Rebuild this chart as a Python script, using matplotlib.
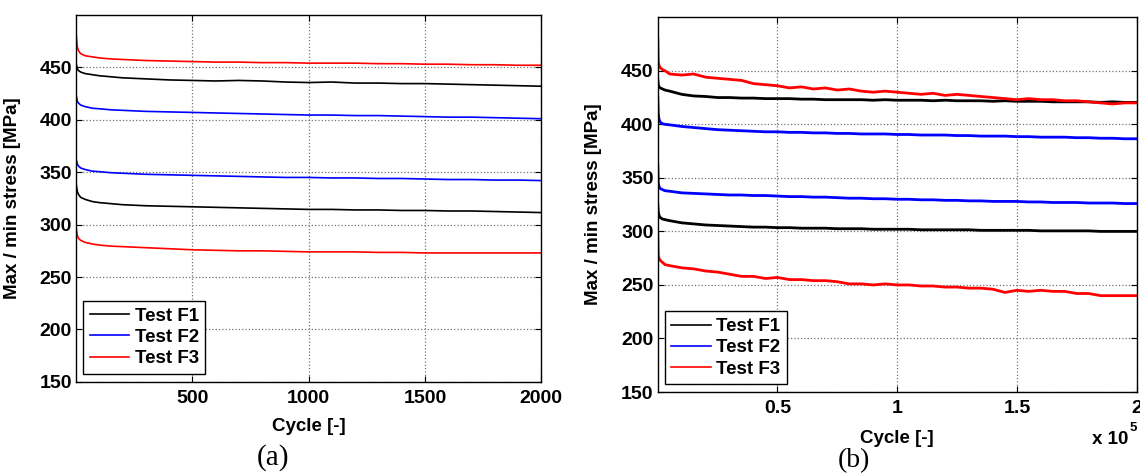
import matplotlib
matplotlib.use("Agg")
import matplotlib.pyplot as plt

plt.rcParams['font.family'] = ['Liberation Sans', 'DejaVu Sans']
plt.rcParams['font.weight'] = 'bold'

# ---------------- data: panel (a), 2000 cycles ----------------
cycles_a = [1, 5, 10, 20, 40, 70, 100, 150, 200, 300, 400, 500, 600, 700, 800,
            900, 1000, 1100, 1200, 1300, 1400, 1500, 1600, 1700, 1800, 1900, 2000]
a_f1_max = [453, 449, 447, 445.5, 444, 443, 442, 441, 440, 439, 438, 437.5, 437, 437.5,
            437, 436, 435.5, 436, 435, 435, 434.5, 434.5, 434, 433.5, 433, 432.5, 432]
a_f2_max = [423, 418, 416, 414, 412.5, 411, 410.5, 409.5, 409, 408, 407.5, 407, 406.5,
            406, 405.5, 405, 404.5, 404.5, 404, 404, 403.5, 403, 402.5, 402.5, 402, 401.5, 401]
a_f3_max = [480, 470, 466, 463, 461, 460, 459, 458, 457.5, 456.5, 456, 455.5, 455, 455,
            454.5, 454.5, 454, 454, 454, 453.5, 453.5, 453, 453, 452.5, 452.5, 452, 452]
a_f1_min = [338, 332, 329, 326, 324, 322, 321, 320, 319, 318, 317.5, 317, 316.5, 316,
            315.5, 315, 314.5, 314.5, 314, 314, 313.5, 313.5, 313, 313, 312.5, 312, 311.5]
a_f2_min = [362, 358, 356, 354, 352.5, 351, 350.5, 349.5, 349, 348, 347.5, 347, 346.5,
            346, 345.5, 345, 345, 344.5, 344.5, 344, 344, 343.5, 343, 343, 342.5, 342.5, 342]
a_f3_min = [296, 290, 287, 285, 283, 281.5, 280.5, 279.5, 279, 278, 277, 276, 275.5, 275,
            275, 274.5, 274, 274, 274, 273.5, 273.5, 273, 273, 273, 273, 273, 273]

# ---------------- data: panel (b), 2e5 cycles (x in units of 1e5) ----------------
cycles_b = [0, 0.002, 0.005, 0.01, 0.02, 0.03, 0.05, 0.10, 0.15, 0.20, 0.25, 0.30, 0.35,
            0.40, 0.45, 0.50, 0.55, 0.60, 0.65, 0.70, 0.75, 0.80, 0.85, 0.90, 0.95, 1.00,
            1.05, 1.10, 1.15, 1.20, 1.25, 1.30, 1.35, 1.40, 1.45, 1.50, 1.55, 1.60, 1.65,
            1.70, 1.75, 1.80, 1.85, 1.90, 1.95, 2.00]
b_f3_max = [480, 458, 455, 453, 451, 450, 447, 446, 447, 444, 443, 442, 441,
            438, 437, 436, 434, 435, 433, 434, 432, 433, 431, 430, 431, 430,
            429, 428, 429, 427, 428, 427, 426, 425, 424, 423, 424, 423, 423,
            422, 422, 421, 420, 419, 420, 420]
b_f1_max = [442, 437, 435, 434, 433, 432, 431, 428, 426.5, 426, 425, 425, 424.5,
            424.5, 424, 424, 424, 423.5, 423.5, 423, 423, 423, 423, 422.5, 423, 422.5,
            422.5, 422.5, 422, 422.5, 422, 422, 422, 421.5, 422, 421.5, 421.5, 421.5, 421,
            421, 421, 421, 420.5, 421, 420.5, 420.5]
b_f2_max = [425, 410, 405, 402, 400.5, 400, 399.5, 398, 397, 396, 395, 394.5, 394,
            393.5, 393, 393, 392.5, 392.5, 392, 392, 391.5, 391.5, 391, 391, 391, 390.5,
            390.5, 390, 390, 390, 389.5, 389.5, 389, 389, 389, 388.5, 388.5, 388, 388,
            388, 387.5, 387.5, 387, 387, 386.5, 386.5]
b_f2_min = [362, 345, 342, 340, 339, 338, 337.5, 336, 335.5, 335, 334.5, 334, 334,
            333.5, 333.5, 333, 332.5, 332.5, 332, 332, 331.5, 331, 331, 330.5, 330.5, 330,
            330, 329.5, 329.5, 329, 329, 328.5, 328.5, 328, 328, 328, 327.5, 327.5, 327,
            327, 327, 326.5, 326.5, 326.5, 326, 326]
b_f1_min = [325, 318, 315, 313, 311.5, 311, 310, 308, 307, 306, 305.5, 305, 304.5,
            304, 304, 303.5, 303.5, 303, 303, 303, 302.5, 302.5, 302.5, 302, 302, 302,
            302, 301.5, 301.5, 301.5, 301.5, 301.5, 301, 301, 301, 301, 301, 300.5, 300.5,
            300.5, 300.5, 300.5, 300, 300, 300, 300]
b_f3_min = [298, 278, 275, 273, 271, 269, 268, 266, 265, 263, 262, 260, 258,
            258, 256, 257, 255, 255, 254, 254, 253, 251, 251, 250, 251, 250,
            250, 249, 249, 248, 248, 247, 247, 246, 243, 245, 244, 245, 244,
            244, 242, 242, 240, 240, 240, 240]

legend_labels = ['Test F1', 'Test F2', 'Test F3']
colors = ['black', 'blue', 'red']
yticks = [150, 200, 250, 300, 350, 400, 450]
xticks_a = [500, 1000, 1500, 2000]
xticks_b = [0.5, 1, 1.5, 2]
xticklabels_b = ['0.5', '1', '1.5', '2']

fig = plt.figure(figsize=(11.4, 4.75), dpi=100)
ax1 = fig.add_axes([0.0667, 0.196, 0.408, 0.7726])
ax2 = fig.add_axes([0.577, 0.1747, 0.420, 0.789])

def style(ax, fs=14):
    ax.set_ylim(150, 500)
    ax.set_yticks(yticks)
    ax.grid(True, linestyle=':', color='0.45', linewidth=0.9)
    ax.tick_params(direction='in', top=True, right=True, length=4, width=0.8,
                   labelsize=fs, colors='black')
    ax.tick_params(axis='y', pad=3)
    ax.tick_params(axis='x', pad=6)
    for lbl in ax.get_xticklabels() + ax.get_yticklabels():
        lbl.set_fontweight('bold')
    for s in ax.spines.values():
        s.set_linewidth(1.0)
        s.set_color('black')

# panel (a)
lw_a = 1.2
ax1.plot(cycles_a, a_f1_max, color=colors[0], lw=lw_a, label=legend_labels[0])
ax1.plot(cycles_a, a_f2_max, color=colors[1], lw=lw_a, label=legend_labels[1])
ax1.plot(cycles_a, a_f3_max, color=colors[2], lw=lw_a, label=legend_labels[2])
ax1.plot(cycles_a, a_f1_min, color=colors[0], lw=lw_a)
ax1.plot(cycles_a, a_f2_min, color=colors[1], lw=lw_a)
ax1.plot(cycles_a, a_f3_min, color=colors[2], lw=lw_a)
ax1.set_xlim(0, 2000)
ax1.set_xticks(xticks_a)
style(ax1)
ax1.set_xlabel('Cycle [-]', fontsize=13.5, fontweight='bold')
ax1.set_ylabel('Max / min stress [MPa]', fontsize=13.5, fontweight='bold')
ax1.xaxis.set_label_coords(0.5, -0.098)
ax1.yaxis.set_label_coords(-0.118, 0.5)

# panel (b)
lw_b = 2.0
ax2.plot(cycles_b, b_f1_max, color=colors[0], lw=lw_b, label=legend_labels[0])
ax2.plot(cycles_b, b_f2_max, color=colors[1], lw=lw_b, label=legend_labels[1])
ax2.plot(cycles_b, b_f3_max, color=colors[2], lw=lw_b, label=legend_labels[2])
ax2.plot(cycles_b, b_f1_min, color=colors[0], lw=lw_b)
ax2.plot(cycles_b, b_f2_min, color=colors[1], lw=lw_b)
ax2.plot(cycles_b, b_f3_min, color=colors[2], lw=lw_b)
ax2.set_xlim(0, 2)
ax2.set_xticks(xticks_b)
ax2.set_xticklabels(xticklabels_b)
style(ax2)
ax2.set_xlabel('Cycle [-]', fontsize=13.5, fontweight='bold')
ax2.set_ylabel('Max / min stress [MPa]', fontsize=13.5, fontweight='bold')
ax2.xaxis.set_label_coords(0.5, -0.101)
ax2.yaxis.set_label_coords(-0.117, 0.5)

for ax, anchor in ((ax1, (0.015, 0.022)), (ax2, (0.0146, 0.021))):
    handles, labels = ax.get_legend_handles_labels()
    leg = ax.legend(handles, labels, loc='lower left', bbox_to_anchor=anchor,
                    borderaxespad=0, fancybox=False, framealpha=1, edgecolor='black',
                    prop={'family': 'Liberation Sans', 'weight': 'bold', 'size': 13.5},
                    handlelength=2.1, handletextpad=0.3, labelspacing=0.22,
                    borderpad=0.35)
    leg.get_frame().set_linewidth(1.0)
    for l in leg.get_lines():
        l.set_linewidth(1.2)

# multiplier text
fig.text(1128 / 1140, 1 - 439 / 475, 'x 10', ha='right', va='center',
         fontsize=13.5, fontweight='bold')
fig.text(1130 / 1140, 1 - 428 / 475, '5', ha='left', va='center',
         fontsize=9.5, fontweight='bold')

# panel captions
fig.text(273 / 1140, 1 - 458 / 475, '(a)', ha='center', va='center',
         fontsize=21, family='Liberation Serif', fontweight='normal')
fig.text(854 / 1140, 1 - 461 / 475, '(b)', ha='center', va='center',
         fontsize=20, family='Liberation Serif', fontweight='normal')

fig.savefig('out.png', dpi=100)
